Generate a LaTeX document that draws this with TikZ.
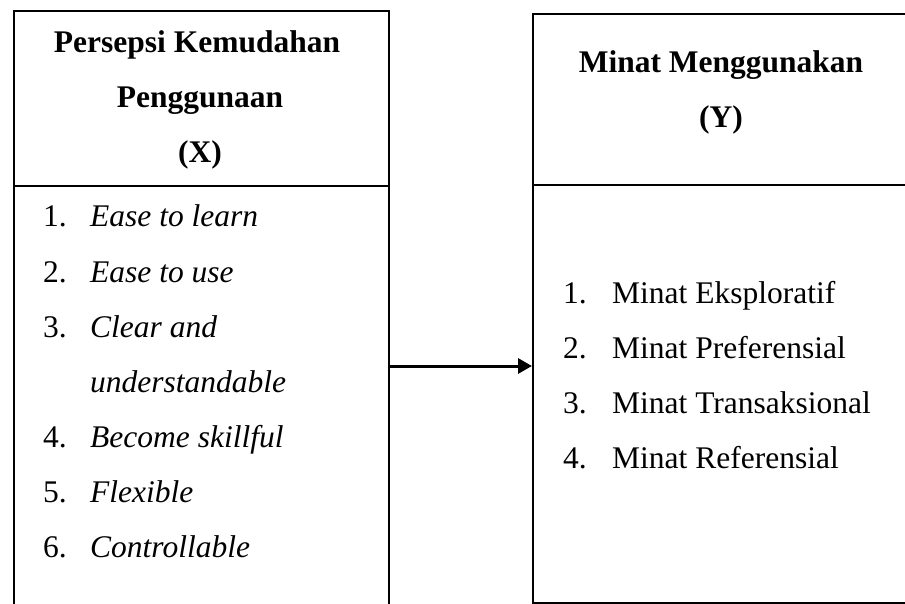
\documentclass[tikz,border=0pt]{standalone}
\usepackage{fontspec}
\setmainfont{Liberation Serif}
\usetikzlibrary{arrows.meta, positioning, calc}

\begin{document}
\begin{tikzpicture}[
  x=1pt, y=-1pt,
  frame/.style={rectangle, draw=black, line width=2pt, inner sep=0pt,
                anchor=north west},
  head/.style={font=\fontsize{31.5}{55}\selectfont\bfseries, anchor=base,
               inner sep=0pt},
  item/.style={font=\fontsize{31.5}{55}\selectfont, anchor=base west,
               inner sep=0pt},
  arr/.style={-{Triangle[length=14pt, width=15pt]}, line width=3pt}
]
\useasboundingbox (0,0) rectangle (905,604);

% variabel X
\node[frame, minimum width=375pt, minimum height=175pt] (xhead) at (13,10) {};
\node[frame, minimum width=375pt, minimum height=440pt] (xbody) at (13,185) {};

\node[head] (xt1) at (197,53)  {Persepsi Kemudahan};
\node[head] (xt2) at (200,108) {Penggunaan};
\node[head] (xt3) at (200,163) {(X)};

\foreach \row/\num/\txt in {0/1./Ease to learn, 1/2./Ease to use,
    2/3./Clear and, 3//understandable, 4/4./Become skillful,
    5/5./Flexible, 6/6./Controllable}{
  \node[item] (xn\row) at (43,227+55*\row) {\num};
  \node[item] (xi\row) at (90,227+55*\row) {\itshape\txt};
}

% variabel Y
\node[frame, minimum width=390pt, minimum height=171pt] (yhead) at (532,13) {};
\node[frame, minimum width=390pt, minimum height=418pt] (ybody) at (532,184) {};

\node[head] (yt1) at (721,73)  {Minat Menggunakan};
\node[head] (yt2) at (721,128) {(Y)};

\foreach \row/\txt in {0/Minat Eksploratif, 1/Minat Preferensial,
    2/Minat Transaksional, 3/Minat Referensial}{
  \pgfmathtruncatemacro{\num}{\row+1}
  \node[item] (yn\row) at (563,303+55*\row) {\num.};
  \node[item] (yi\row) at (612,303+55*\row) {\txt};
}

% panah X -> Y
\coordinate (mid) at (460,366);
\draw[arr] (xbody.east |- mid) -- (ybody.west |- mid);

\end{tikzpicture}
\end{document}
